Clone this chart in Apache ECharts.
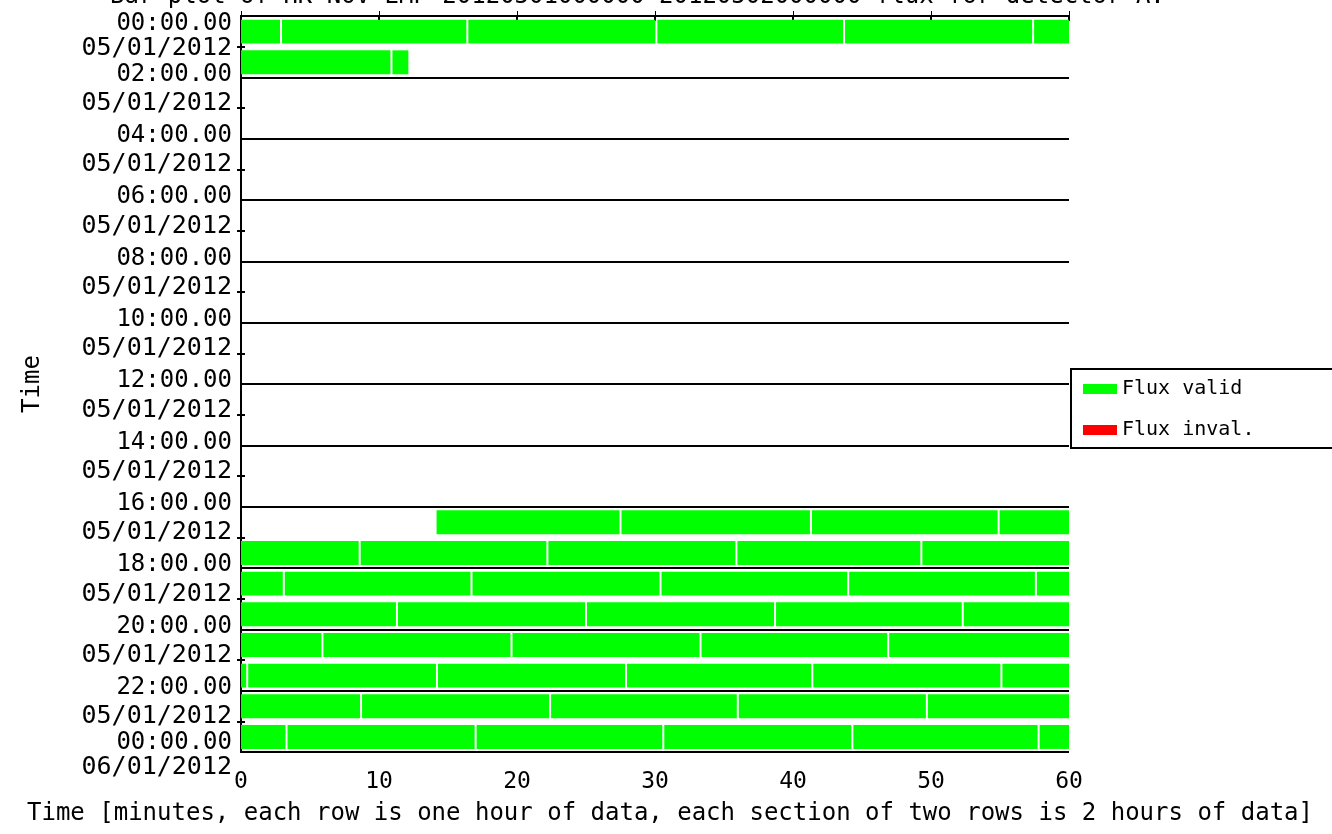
<!DOCTYPE html>
<html>
<head>
<meta charset="utf-8">
<script src="https://cdn.jsdelivr.net/npm/echarts@6/dist/echarts.min.js"></script>
<style>
  html, body { margin: 0; padding: 0; background: #fff; }
  #chart { width: 1332px; height: 834px; }
</style>
</head>
<body>
<div id="chart"></div>
<script>
// ---- data ----
const titleText = 'Bar plot of HK NOV EMP 20120501000000-20120502000000 flux for detector A:';
const timeLabels = ['00:00.00','02:00.00','04:00.00','06:00.00','08:00.00','10:00.00','12:00.00',
                    '14:00.00','16:00.00','18:00.00','20:00.00','22:00.00','00:00.00'];
const dateLabels = ['05/01/2012','05/01/2012','05/01/2012','05/01/2012','05/01/2012','05/01/2012','05/01/2012',
                    '05/01/2012','05/01/2012','05/01/2012','05/01/2012','05/01/2012','06/01/2012'];
const xTicks = [0, 10, 20, 30, 40, 50, 60];
// row index = hour of day; each row has a start, interior break points and an end (minutes)
const rowHours  = [0, 1, 16, 17, 18, 19, 20, 21, 22, 23];
const rowStarts = [0, 0, 14.1, 0, 0, 0, 0, 0, 0, 0];
const rowBreaks = [
  [2.9, 16.4, 30.1, 43.7, 57.4],
  [10.9],
  [27.5, 41.3, 54.9],
  [8.6, 22.2, 35.9, 49.3],
  [3.1, 16.7, 30.4, 44.0, 57.6],
  [11.3, 25.0, 38.7, 52.3],
  [5.9, 19.6, 33.3, 46.9],
  [0.45, 14.2, 27.9, 41.4, 55.1],
  [8.7, 22.4, 36.0, 49.7],
  [3.3, 17.0, 30.6, 44.3, 57.8]
];
const rowEnds = [60, 12.2, 60, 60, 60, 60, 60, 60, 60, 60];
const invalidSegments = [];

// ---- build segments ----
const validSegments = [];
rowHours.forEach((h, i) => {
  const pts = [rowStarts[i]].concat(rowBreaks[i]).concat([rowEnds[i]]);
  for (let k = 0; k < pts.length - 1; k++) {
    validSegments.push([pts[k], pts[k + 1], h]);
  }
});

const FONT = 'DejaVu Sans Mono';
const LAST = timeLabels.length - 1;

function renderSeg(params, api) {
  const s = api.value(0), e = api.value(1), r = api.value(2);
  const p1 = api.coord([s, r + 0.12]);
  const p2 = api.coord([e, r + 0.9]);
  let x1 = p1[0], x2 = p2[0];
  if (s > 0) x1 += 1;
  if (e < 60) x2 -= 1;
  return {
    type: 'rect',
    shape: { x: x1, y: p1[1], width: Math.max(x2 - x1, 0.5), height: p2[1] - p1[1] },
    style: { fill: api.visual('color') }
  };
}

const richStyles = {
  sp:  { fontFamily: FONT, fontSize: 24, lineHeight: 20, color: '#000' },
  t0:  { fontFamily: FONT, fontSize: 24, lineHeight: 44, color: '#000' },
  d0:  { fontFamily: FONT, fontSize: 25, lineHeight: 4, color: '#000' },
  t:   { fontFamily: FONT, fontSize: 24, lineHeight: 52, color: '#000' },
  d:   { fontFamily: FONT, fontSize: 25, lineHeight: 6, color: '#000' },
  tl:  { fontFamily: FONT, fontSize: 24, lineHeight: 30, color: '#000' },
  dl:  { fontFamily: FONT, fontSize: 25, lineHeight: 18, color: '#000' }
};

const chart = echarts.init(document.getElementById('chart'), null, { renderer: 'canvas' });
chart.setOption({
  animation: false,
  backgroundColor: '#fff',
  textStyle: { fontFamily: FONT, color: '#000' },
  title: {
    text: titleText,
    left: 105, top: -20,
    textStyle: { fontFamily: FONT, fontSize: 24, fontWeight: 'normal', color: '#000' }
  },
  legend: {
    orient: 'vertical',
    left: 1071, top: 369,
    backgroundColor: '#fff',
    borderColor: '#000', borderWidth: 2, borderRadius: 0,
    padding: [10, 79, 8, 12],
    itemWidth: 34, itemHeight: 10, itemGap: 21,
    icon: 'rect',
    textStyle: { fontFamily: FONT, fontSize: 20, color: '#000' },
    data: ['Flux valid', 'Flux inval.']
  },
  grid: { left: 241, right: 263, top: 16, bottom: 82, containLabel: false, outerBoundsMode: 'none' },
  xAxis: [
    {
      type: 'value', min: 0, max: 60, interval: 10, position: 'bottom',
      name: 'Time [minutes, each row is one hour of data, each section of two rows is 2 hours of data]',
      nameLocation: 'middle', nameGap: 50,
      nameTextStyle: { fontFamily: FONT, fontSize: 24, color: '#000', padding: [0, 0, 0, 30] },
      axisLine: { show: true, lineStyle: { color: '#000', width: 2 } },
      axisTick: { show: true, inside: true, length: 5, lineStyle: { color: '#000' } },
      axisLabel: { show: true, margin: 19, fontFamily: FONT, fontSize: 23, color: '#000',
        showMinLabel: true, showMaxLabel: true,
        formatter: v => (xTicks.indexOf(v) >= 0 ? String(v) : '') },
      splitLine: { show: false }
    },
    {
      type: 'value', min: 0, max: 60, interval: 10, position: 'top',
      axisLine: { show: true, lineStyle: { color: '#000', width: 2 } },
      axisTick: { show: true, inside: true, length: 5, lineStyle: { color: '#000', width: 2 } },
      axisLabel: { show: false },
      splitLine: { show: false }
    }
  ],
  yAxis: [
    {
      type: 'value', min: 0, max: 24, interval: 2, inverse: true, position: 'left',
      name: 'Time', nameLocation: 'middle', nameGap: 196, nameRotate: 90,
      nameTextStyle: { fontFamily: FONT, fontSize: 24, color: '#000' },
      axisLine: { show: true, lineStyle: { color: '#000', width: 2 } },
      axisTick: { show: false, inside: true },
      minorTick: { show: true, splitNumber: 2, length: 4, lineStyle: { color: '#000', width: 2 } },
      splitLine: { show: true, lineStyle: { color: '#000', width: 2 } },
      axisLabel: {
        show: true, margin: 9, align: 'right', color: '#000',
        showMinLabel: true,
        formatter: function (v) {
          const i = Math.round(v / 2);
          if (i === LAST) return '';
          if (i === 0) return '{sp|\u00a0}\n{t0|' + timeLabels[i] + '}\n{d0|' + dateLabels[i] + '}';
          return '{t|' + timeLabels[i] + '}\n{d|' + dateLabels[i] + '}';
        },
        rich: richStyles
      }
    },
    {
      type: 'value', min: 0, max: 24, interval: 2, inverse: true, position: 'right',
      axisLine: { show: true, lineStyle: { color: '#000', width: 2 } },
      axisTick: { show: false, inside: true },
      minorTick: { show: true, splitNumber: 2, length: 4, lineStyle: { color: '#000', width: 2 } },
      axisLabel: { show: false },
      splitLine: { show: false }
    },
    {
      // carries only the final (end-of-day) label
      type: 'value', min: 0, max: 24, interval: 2, inverse: true, position: 'left',
      axisLine: { show: false },
      axisTick: { show: false },
      splitLine: { show: false },
      axisLabel: {
        show: true, margin: 9, align: 'right', color: '#000',
        showMaxLabel: true,
        formatter: function (v) {
          const i = Math.round(v / 2);
          if (i !== LAST) return '';
          return '{tl|' + timeLabels[i] + '}\n{dl|' + dateLabels[i] + '}';
        },
        rich: richStyles
      }
    }
  ],
  series: [
    {
      name: 'Flux valid', type: 'custom', xAxisIndex: 0, yAxisIndex: 0,
      itemStyle: { color: '#00ff00' },
      renderItem: renderSeg,
      encode: { x: [0, 1], y: 2 },
      data: validSegments,
      z: 3
    },
    {
      name: 'Flux inval.', type: 'custom', xAxisIndex: 0, yAxisIndex: 0,
      itemStyle: { color: '#ff0000' },
      renderItem: renderSeg,
      encode: { x: [0, 1], y: 2 },
      data: invalidSegments,
      z: 3
    }
  ]
});
</script>
</body>
</html>
